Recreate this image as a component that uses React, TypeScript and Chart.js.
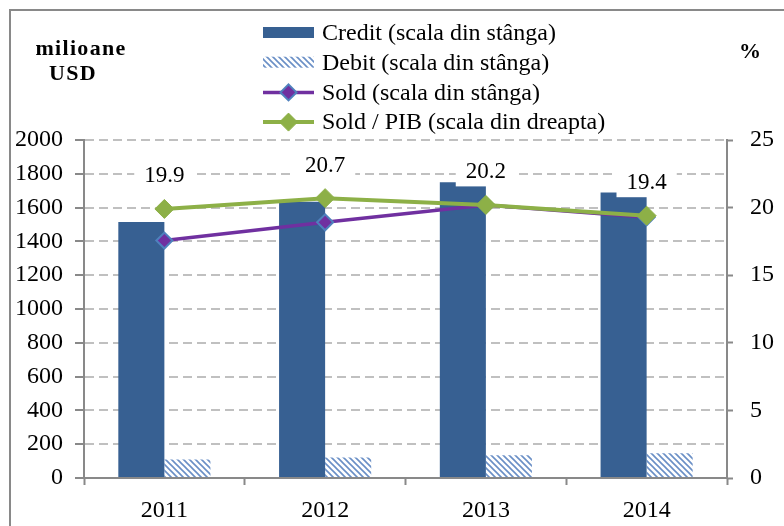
import React, { useEffect, useRef } from 'react';
import { Chart, registerables } from 'chart.js';

Chart.register(...registerables);

const years = ['2011', '2012', '2013', '2014'];
const creditValues = [1515, 1635, 1750, 1690];
const debitValues = [110, 122, 135, 147];
const soldValues = [1405, 1513, 1615, 1543];
const soldPibValues = [19.9, 20.7, 20.2, 19.4];
const seriesNames = [
  'Credit (scala din stânga)',
  'Debit (scala din stânga)',
  'Sold (scala din stânga)',
  'Sold / PIB (scala din dreapta)',
];
const leftUnit = ['milioane', 'USD'];
const rightUnit = '%';

const FONT = '"Liberation Serif", "Times New Roman", serif';
const C_CREDIT = '#376092';
const C_DEBIT = '#6A8FC6';
const C_SOLD = '#7030A0';
const C_SOLD_BORDER = '#4F81BD';
const C_PIB = '#8DB047';
const C_AXIS = '#898989';
const C_GRID = '#C0C0C0';

function makeHatch(): CanvasPattern | string {
  const s = 6;
  const c = document.createElement('canvas');
  c.width = s;
  c.height = s;
  const g = c.getContext('2d');
  if (!g) return C_DEBIT;
  g.fillStyle = '#ffffff';
  g.fillRect(0, 0, s, s);
  g.strokeStyle = C_DEBIT;
  g.lineWidth = 1.6;
  g.beginPath();
  g.moveTo(-1, -1);
  g.lineTo(s + 1, s + 1);
  g.moveTo(-1, s - 1);
  g.lineTo(1, s + 1);
  g.moveTo(s - 1, -1);
  g.lineTo(s + 1, 1);
  g.stroke();
  return g.createPattern(c, 'repeat') || C_DEBIT;
}

function diamond(ctx: CanvasRenderingContext2D, x: number, y: number, r: number, fill: string, stroke: string, lw: number) {
  ctx.beginPath();
  ctx.moveTo(x - r, y);
  ctx.lineTo(x, y - r);
  ctx.lineTo(x + r, y);
  ctx.lineTo(x, y + r);
  ctx.closePath();
  ctx.fillStyle = fill;
  ctx.fill();
  ctx.lineWidth = lw;
  ctx.strokeStyle = stroke;
  ctx.stroke();
}

export default function App() {
  const ref = useRef<HTMLCanvasElement | null>(null);

  useEffect(() => {
    if (!ref.current) return;
    const hatch = makeHatch();

    const decor = {
      id: 'decor',
      beforeDraw(chart: any) {
        const ctx = chart.ctx as CanvasRenderingContext2D;
        ctx.save();
        ctx.fillStyle = '#ffffff';
        ctx.fillRect(0, 0, chart.width, chart.height);
        ctx.restore();
      },
      afterDatasetsDraw(chart: any) {
        const ctx = chart.ctx as CanvasRenderingContext2D;
        const meta = chart.getDatasetMeta(0);
        ctx.save();
        ctx.font = `23px ${FONT}`;
        ctx.textAlign = 'center';
        ctx.textBaseline = 'middle';
        meta.data.forEach((pt: any, i: number) => {
          const txt = soldPibValues[i].toFixed(1);
          const w = ctx.measureText(txt).width;
          const cy = pt.y - 33.5;
          ctx.fillStyle = '#ffffff';
          ctx.fillRect(pt.x - w / 2 - 10, cy - 15, w + 20, 30);
          ctx.fillStyle = '#000000';
          ctx.fillText(txt, pt.x, cy + 1);
        });
        ctx.restore();
      },
      afterDraw(chart: any) {
        const ctx = chart.ctx as CanvasRenderingContext2D;
        ctx.save();
        ctx.strokeStyle = C_AXIS;
        ctx.lineWidth = 2;
        ctx.strokeRect(10, 10, chart.width + 20, chart.height + 20);
        ctx.fillStyle = '#000000';
        ctx.font = `bold 22px ${FONT}`;
        (ctx as any).letterSpacing = '1.3px';
        ctx.textAlign = 'center';
        ctx.textBaseline = 'middle';
        ctx.fillText(leftUnit[0], 81, 49);
        ctx.fillText(leftUnit[1], 73, 74);
        (ctx as any).letterSpacing = '0px';
        ctx.fillText(rightUnit, 750, 52);
        const sx0 = 263;
        const sx1 = 314;
        const tx = 322;
        ctx.font = `24px ${FONT}`;
        ctx.textAlign = 'left';
        seriesNames.forEach((name, i) => {
          const cy = 33 + i * 29.7;
          if (i === 0) {
            ctx.fillStyle = C_CREDIT;
            ctx.fillRect(sx0, cy - 6, sx1 - sx0, 11);
          } else if (i === 1) {
            ctx.fillStyle = hatch as any;
            ctx.fillRect(sx0, cy - 6, sx1 - sx0, 11);
          } else {
            const col = i === 2 ? C_SOLD : C_PIB;
            ctx.beginPath();
            ctx.moveTo(sx0, cy);
            ctx.lineTo(sx1, cy);
            ctx.strokeStyle = col;
            ctx.lineWidth = i === 2 ? 3.5 : 4;
            ctx.stroke();
            if (i === 2) diamond(ctx, (sx0 + sx1) / 2, cy, 8, C_SOLD, C_SOLD_BORDER, 2);
            else diamond(ctx, (sx0 + sx1) / 2, cy, 9, C_PIB, C_PIB, 1);
          }
          ctx.fillStyle = '#000000';
          ctx.fillText(name, tx, cy + 1);
        });
        ctx.restore();
      },
    };

    const tickFont = { family: FONT, size: 24 };

    const chart = new Chart(ref.current, {
      type: 'bar',
      data: {
        labels: years,
        datasets: [
          {
            type: 'line',
            label: seriesNames[3],
            data: soldPibValues,
            yAxisID: 'y1',
            borderColor: C_PIB,
            backgroundColor: C_PIB,
            borderWidth: 4,
            pointStyle: 'rectRot',
            pointRadius: 9.5,
            pointBorderWidth: 1,
            pointBackgroundColor: C_PIB,
            pointBorderColor: C_PIB,
            order: 0,
          } as any,
          {
            type: 'line',
            label: seriesNames[2],
            data: soldValues,
            yAxisID: 'y',
            borderColor: C_SOLD,
            backgroundColor: C_SOLD,
            borderWidth: 3.5,
            pointStyle: 'rectRot',
            pointRadius: 8,
            pointBorderWidth: 2,
            pointBackgroundColor: C_SOLD,
            pointBorderColor: C_SOLD_BORDER,
            order: 1,
          } as any,
          {
            type: 'bar',
            label: seriesNames[0],
            data: creditValues,
            yAxisID: 'y',
            backgroundColor: C_CREDIT,
            barPercentage: 1,
            categoryPercentage: 0.573,
            order: 2,
          },
          {
            type: 'bar',
            label: seriesNames[1],
            data: debitValues,
            yAxisID: 'y',
            backgroundColor: hatch as any,
            barPercentage: 1,
            categoryPercentage: 0.573,
            order: 3,
          },
        ],
      },
      options: {
        responsive: false,
        animation: false,
        layout: { padding: { top: 140, left: 0, right: 0, bottom: 0 } },
        plugins: {
          legend: { display: false },
          tooltip: { enabled: false },
          title: { display: false },
        },
        scales: {
          x: {
            position: 'bottom',
            afterFit: (s: any) => { s.height = 48; },
            grid: {
              display: true,
              offset: true,
              drawOnChartArea: false,
              drawTicks: true,
              tickLength: 7,
              tickColor: C_AXIS,
              tickWidth: 2,
              color: C_AXIS,
            },
            border: { display: true, color: C_AXIS, width: 2 },
            ticks: {
              color: '#000000',
              font: tickFont,
              padding: 11,
            },
          },
          y: {
            position: 'left',
            min: 0,
            max: 2000,
            afterFit: (s: any) => { s.width = 84; },
            grid: {
              color: C_GRID,
              lineWidth: 2,
              tickLength: 9,
              tickColor: C_AXIS,
              tickWidth: 2,
              tickBorderDash: [],
            },
            border: { display: true, color: C_AXIS, width: 2, dash: [9, 5] },
            ticks: {
              stepSize: 200,
              color: '#000000',
              font: tickFont,
              padding: 12,
              callback: (v: any) => String(v),
            },
          },
          y1: {
            position: 'right',
            min: 0,
            max: 25,
            afterFit: (s: any) => { s.width = 57; },
            grid: {
              drawOnChartArea: false,
              tickLength: 6,
              tickColor: C_AXIS,
              tickWidth: 2,
              color: C_AXIS,
            },
            border: { display: true, color: C_AXIS, width: 2 },
            ticks: {
              stepSize: 5,
              color: '#000000',
              font: tickFont,
              padding: 17,
              callback: (v: any) => String(v),
            },
          },
        },
      } as any,
      plugins: [decor],
    });

    return () => chart.destroy();
  }, []);

  return (
    <div style={{ position: 'absolute', left: 0, top: 0, width: 784, height: 526 }}>
      <canvas ref={ref} width={784} height={526} style={{ width: 784, height: 526 }} />
    </div>
  );
}
